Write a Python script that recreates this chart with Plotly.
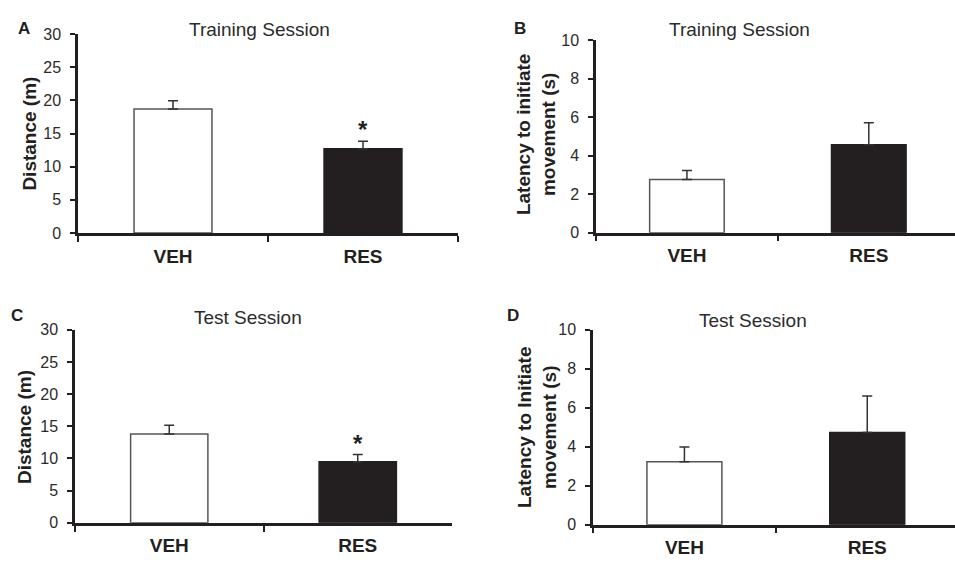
import plotly.graph_objects as go

# Group labels
groups = ["VEH", "RES"]

# Distance travelled (m), mean and SEM
dist_train = [18.7, 12.7]
dist_train_sem = [1.25, 1.15]
dist_test = [13.8, 9.5]
dist_test_sem = [1.35, 1.1]

# Latency to initiate movement (s), mean and SEM
lat_train = [2.77, 4.57]
lat_train_sem = [0.46, 1.15]
lat_test = [3.23, 4.73]
lat_test_sem = [0.75, 1.87]

W, H = 955, 566
FONT = "Liberation Sans, Arial, sans-serif"
INK = "#231f20"
fill_colors = ["white", INK]
edge_colors = ["#555555", INK]


def px_x(p):
    return p / W


def px_y(p):
    return 1 - p / H


panels = [
    # (values, sem, x-domain px, y-domain px, y max, dtick, x range end)
    (dist_train, dist_train_sem, (78, 458), (27, 232), 30, 5, 1.5),
    (lat_train, lat_train_sem, (596, 955), (33.3, 231.7), 10, 2, 1.474),
    (dist_test, dist_test_sem, (75, 452), (331.7, 530.7), 30, 5, 1.5),
    (lat_test, lat_test_sem, (593, 955), (331.7, 532.7), 10, 2, 1.48),
]

fig = go.Figure()
layout = {}
for i, (vals, sem, xd, yd, ymax, dt, xend) in enumerate(panels, start=1):
    xa = "x" if i == 1 else f"x{i}"
    ya = "y" if i == 1 else f"y{i}"
    fig.add_trace(go.Bar(
        x=groups, y=vals, xaxis=xa, yaxis=ya, width=0.41,
        marker=dict(color=fill_colors, line=dict(color=edge_colors, width=1.5)),
        error_y=dict(type="data", symmetric=False, array=sem, arrayminus=[0, 0],
                     color="#333333", thickness=1.5, width=5),
        showlegend=False, hoverinfo="skip",
    ))
    xkey = "xaxis" if i == 1 else f"xaxis{i}"
    ykey = "yaxis" if i == 1 else f"yaxis{i}"
    layout[xkey] = dict(
        domain=[px_x(xd[0]), px_x(xd[1])], anchor=ya, type="category",
        range=[-0.5, xend], showline=True, linecolor=INK, linewidth=2.5,
        ticks="outside", tickson="boundaries", ticklen=6, tickcolor=INK, tickwidth=1.5,
        showgrid=False, zeroline=False, ticklabelstandoff=4,
        tickfont=dict(family=FONT, size=19, color=INK, weight="bold"),
    )
    layout[ykey] = dict(
        domain=[px_y(yd[1]), px_y(yd[0])], anchor=xa, range=[0, ymax],
        dtick=dt, showline=True, linecolor=INK, linewidth=2.5,
        ticks="outside", ticklen=5, tickcolor=INK, tickwidth=1.5,
        showgrid=False, zeroline=False, ticklabelstandoff=6,
        tickfont=dict(family=FONT, size=16, color="#2b2b2b"),
    )

fig.update_layout(**layout)

ann = []
# Panel letters
for txt, x, y in [("A", 24, 21), ("B", 520, 21), ("C", 17, 317), ("D", 513, 317)]:
    ann.append(dict(text=txt, x=px_x(x), y=px_y(y), xref="paper", yref="paper",
                    showarrow=False, xanchor="center", yanchor="middle",
                    font=dict(family=FONT, size=17, color=INK, weight="bold")))
# Panel titles
for txt, x, y in [("Training Session", 259, 22), ("Training Session", 739, 22),
                  ("Test Session", 248, 319), ("Test Session", 753, 322)]:
    ann.append(dict(text=txt, x=px_x(x), y=px_y(y), xref="paper", yref="paper",
                    showarrow=False, xanchor="center", yanchor="middle",
                    font=dict(family=FONT, size=19, color="#2b2b2b")))
# Y-axis titles
for txt, x, y in [("Distance (m)", 30, 129.5),
                  ("Latency to initiate<br>movement (s)", 536, 130),
                  ("Distance (m)", 24, 432),
                  ("Latency to Initiate<br>movement (s)", 537, 432)]:
    ann.append(dict(text=txt, x=px_x(x), y=px_y(y), xref="paper", yref="paper",
                    showarrow=False, xanchor="center", yanchor="middle", textangle=-90,
                    font=dict(family=FONT, size=19, color=INK, weight="bold")))
# Significance markers above the RES bars
for xa, ya, vals, sem in [("x", "y", dist_train, dist_train_sem),
                          ("x3", "y3", dist_test, dist_test_sem)]:
    ann.append(dict(text="*", x="RES", y=vals[1] + sem[1], xref=xa, yref=ya,
                    showarrow=False, xanchor="center", yanchor="bottom", yshift=-4,
                    font=dict(family=FONT, size=24, color=INK, weight="bold")))

fig.update_layout(
    width=W, height=H, margin=dict(l=0, r=0, t=0, b=0),
    paper_bgcolor="white", plot_bgcolor="white",
    annotations=ann, bargap=0.5,
)

fig.write_html("out.html")
